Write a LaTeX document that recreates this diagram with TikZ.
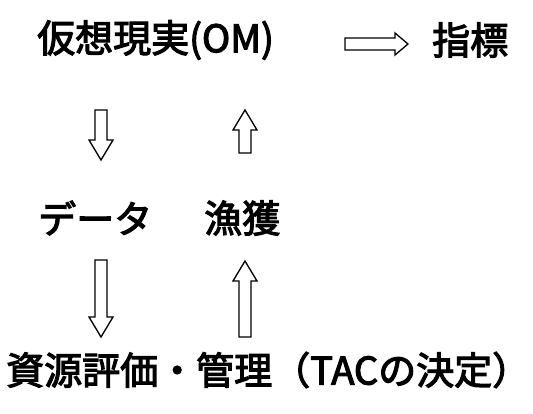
\documentclass[tikz,border=0pt]{standalone}
\usepackage{fontspec}
\setmainfont{Noto Sans CJK JP}[FakeBold=3]
\usetikzlibrary{calc}
\tikzset{
  lbl/.style={inner sep=0pt, font=\fontsize{38}{40}\selectfont},
  barrow/.style={draw=black, line width=1.3pt, fill=white, line join=miter},
}
\begin{document}
\begin{tikzpicture}[x=1pt,y=-1pt]
\useasboundingbox (0,0) rectangle (533,414);
% text nodes
\node[lbl, anchor=west] (om) at (37,40) {仮想現実(OM)};
\node[lbl, anchor=west] (idx) at (432,40) {指標};
\node[lbl, anchor=west] (data) at (38,218) {データ};
\node[lbl, anchor=west] (catch) at (204,218) {漁獲};
\node[lbl, anchor=west] (mgmt) at (6,370) {資源評価・管理（TACの決定）};
% anchor coordinates for block arrows
\coordinate (a1s) at (101,110); \coordinate (a1e) at (101,160);
\coordinate (a2s) at (245,153); \coordinate (a2e) at (245,110);
\coordinate (a3s) at (101,260); \coordinate (a3e) at (101,337);
\coordinate (a4s) at (245,337); \coordinate (a4e) at (245,261);
\coordinate (a5s) at (345,44);  \coordinate (a5e) at (408,44);
% vertical arrows
\foreach \s/\e/\d in {a1s/a1e/1, a3s/a3e/1, a2s/a2e/-1, a4s/a4e/-1}{
  \draw[barrow] ($(\s)+(-6,0)$) -- ($(\e)+(-6,-20*\d)$) -- ($(\e)+(-12,-20*\d)$)
     -- (\e) -- ($(\e)+(12,-20*\d)$) -- ($(\e)+(6,-20*\d)$) -- ($(\s)+(6,0)$) -- cycle;
}
% horizontal arrow
\draw[barrow] ($(a5s)+(0,-6)$) -- ($(a5e)+(-13,-6)$) -- ($(a5e)+(-13,-11)$) -- (a5e)
   -- ($(a5e)+(-13,11)$) -- ($(a5e)+(-13,6)$) -- ($(a5s)+(0,6)$) -- cycle;
\end{tikzpicture}
\end{document}
